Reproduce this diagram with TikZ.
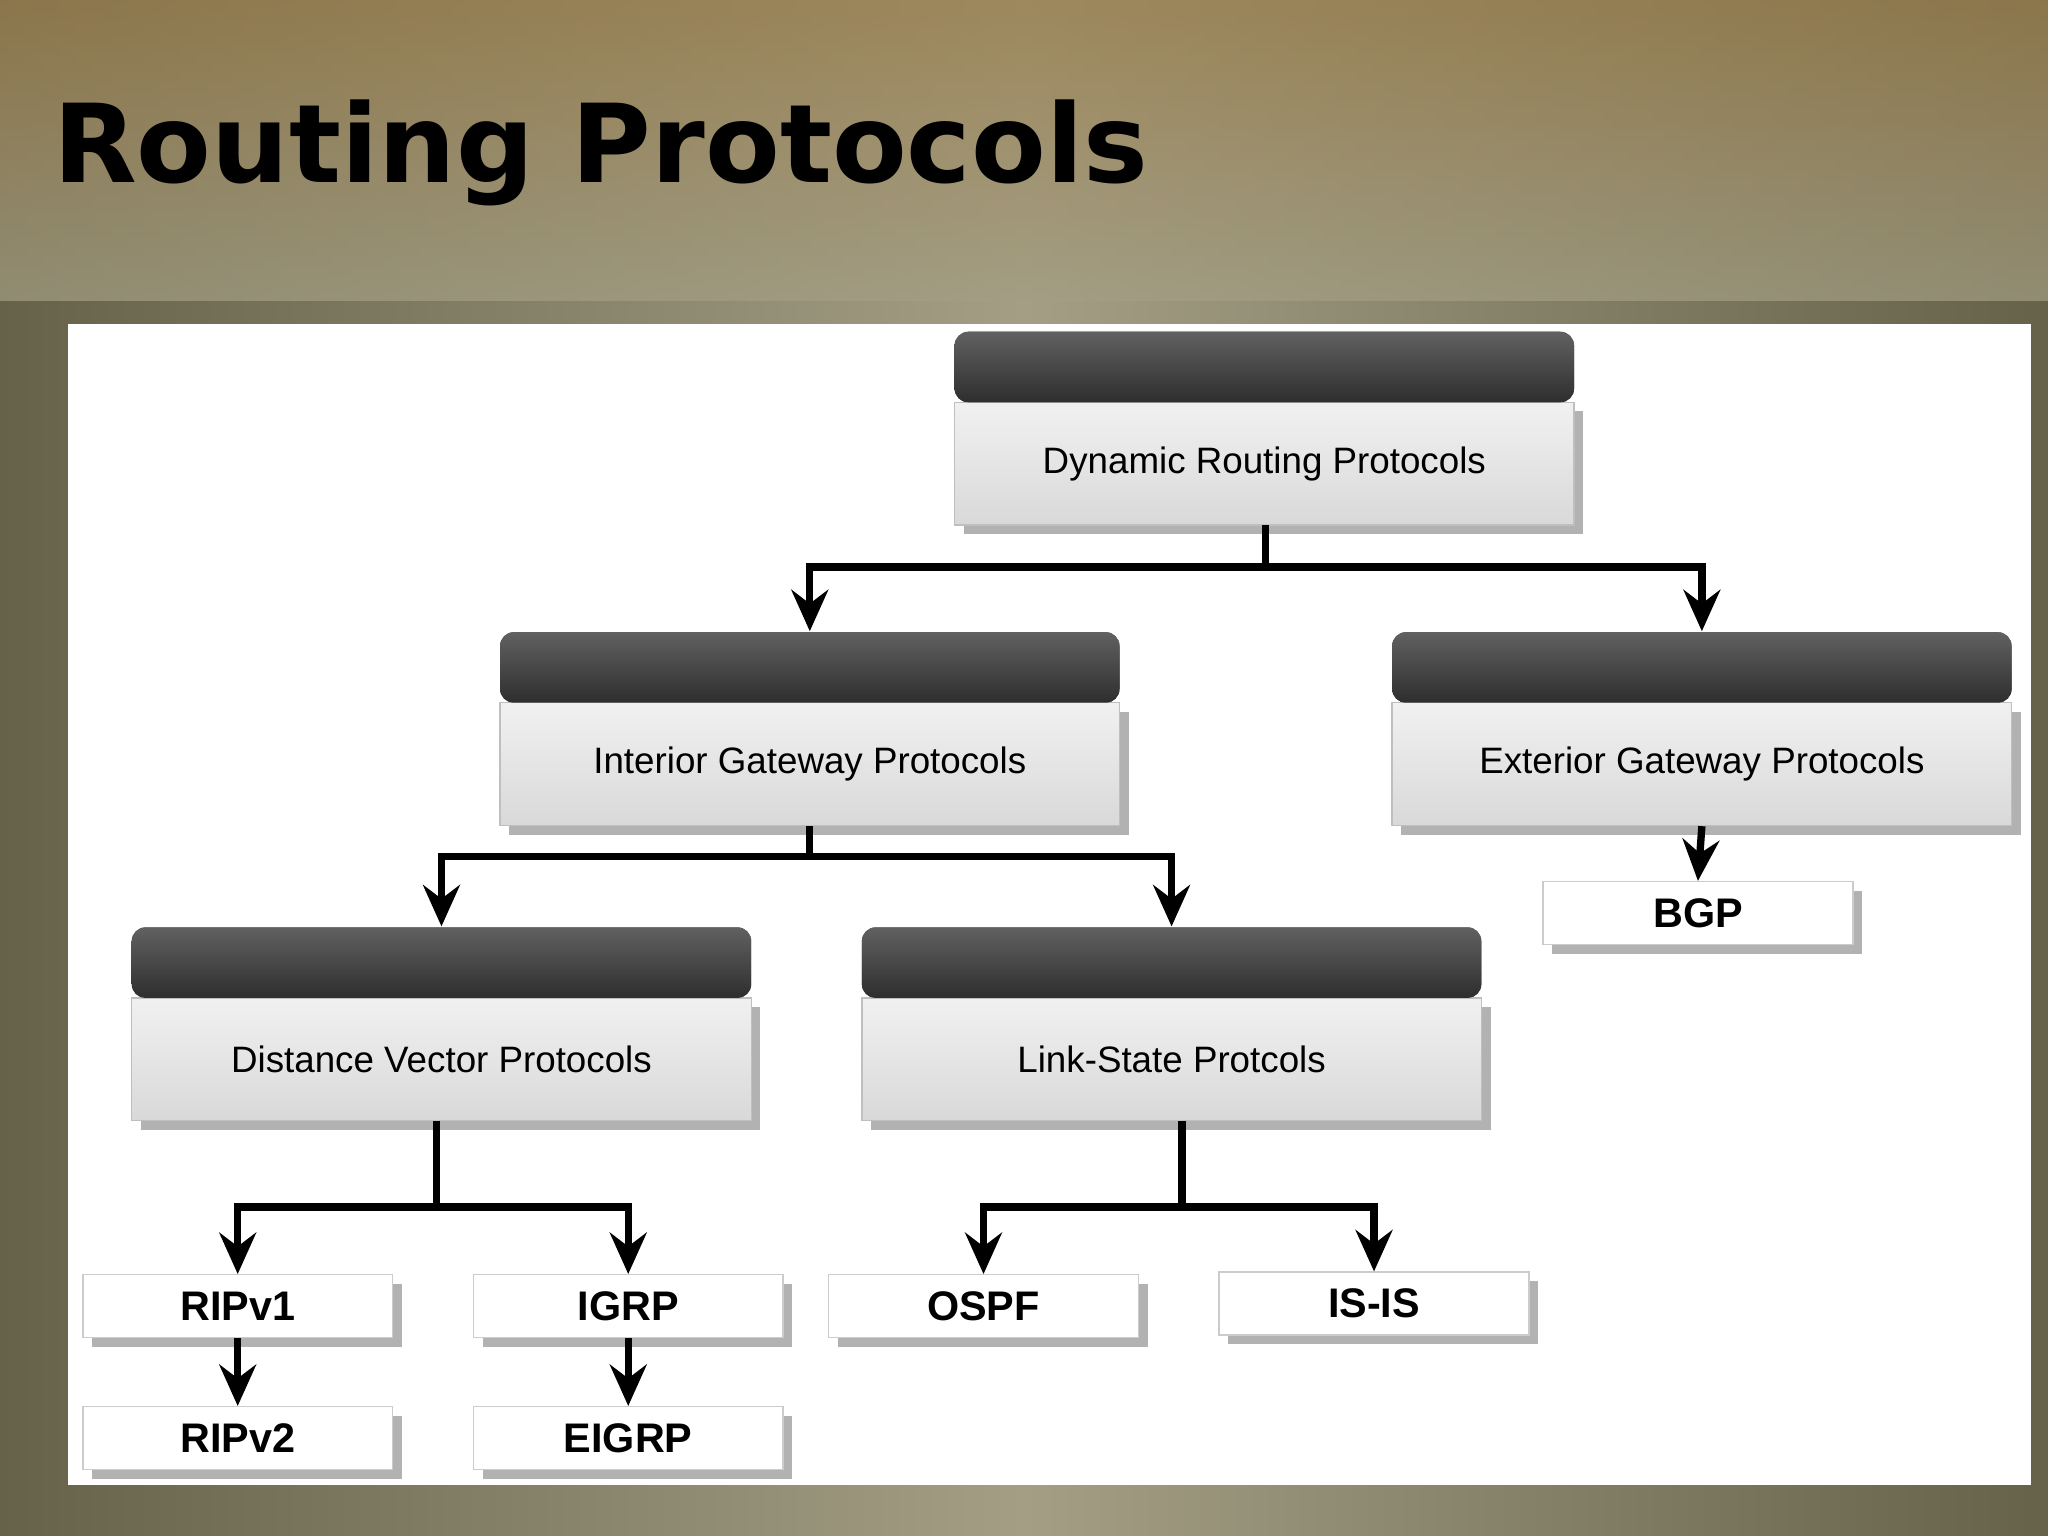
\documentclass[tikz,border=0pt]{standalone}
\usepackage{fontspec}
\setmainfont{Liberation Sans}
\newfontfamily\titlefont{DejaVu Sans}
\usetikzlibrary{arrows.meta,shadows,fadings}
\definecolor{bgmid}{HTML}{A39E84}
\definecolor{bgedge}{HTML}{66624A}
\definecolor{gold}{HTML}{9C7F4C}
\tikzset{
  bigbox/.style={minimum width=4.74cm,minimum height=0.94cm,inner sep=0pt,
    top color=white!92!blue!30!gray!15,bottom color=gray!30,draw=gray!50,line width=0.3pt,
    drop shadow={shadow xshift=2pt,shadow yshift=-2pt,opacity=0.6},font=\fontsize{8}{9}\selectfont},
  hdr/.style={minimum width=4.74cm,minimum height=0.54cm,inner sep=0pt,
    rounded corners=3pt,top color=black!62,bottom color=black!82,draw=none},
  smallbox/.style={minimum width=2.37cm,minimum height=0.48cm,inner sep=0pt,fill=white,
    draw=gray!40,line width=0.3pt,drop shadow={shadow xshift=2pt,shadow yshift=-2pt,opacity=0.6},
    font=\bfseries\fontsize{9}{10}\selectfont},
  conn/.style={line width=1.6pt,-{Stealth[length=9pt,width=8pt,inset=3pt]}},
  line/.style={line width=1.6pt}
}
\begin{document}
\begin{tikzpicture}[x={(0.01cm,0)},y={(0,-0.01cm)}]
\useasboundingbox (0,0) rectangle (1568,1176);
\shade[left color=bgedge,right color=bgedge,middle color=bgmid] (0,0) rectangle (1568,1176);
\shade[top color=gold,bottom color=bgmid,opacity=0.7] (0,0) rectangle (1568,230);
\node[anchor=base west,inner sep=0pt] (title) at (40,140)
  {\resizebox{8.38cm}{!}{\titlefont\bfseries Routing Protocols}};
\fill[white] (52,248) rectangle (1555,1137);
% big boxes
\foreach \n/\x/\y/\t in {dyn/968/328/Dynamic Routing Protocols,
  igp/620/558/Interior Gateway Protocols,
  egp/1303/558/Exterior Gateway Protocols,
  dv/338/784/Distance Vector Protocols,
  ls/897/784/Link-State Protcols}{
  \node[hdr] (\n h) at (\x,\y-47) {};
  \node[bigbox] (\n) at (\x,\y+27) {\t};
  \node[hdr] at (\x,\y-47) {};
}
% small boxes
\node[smallbox] (rip1) at (182,1000) {RIPv1};
\node[smallbox] (rip2) at (182,1101) {RIPv2};
\node[smallbox] (igrp) at (481,1000) {IGRP};
\node[smallbox] (eigrp) at (481,1101) {EIGRP};
\node[smallbox] (ospf) at (753,1000) {OSPF};
\node[smallbox] (isis) at (1052,998) {IS-IS};
\node[smallbox] (bgp) at (1300,699) {BGP};
% connectors
\draw[line] (969,402) -- (969,434) coordinate (j1);
\draw[conn] (j1) -| (igph.north);
\draw[conn] (j1) -| (egph.north);
\draw[line] (igp.south) -- (620,656) coordinate (j2);
\draw[conn] (j2) -| (dvh.north);
\draw[conn] (j2) -| (lsh.north);
\draw[conn] (egp.south) -- (bgp.north);
\draw[line] (334,858) -- (334,924) coordinate (j3);
\draw[conn] (j3) -| (rip1.north);
\draw[conn] (j3) -| (igrp.north);
\draw[line] (905,858) -- (905,924) coordinate (j4);
\draw[conn] (j4) -| (ospf.north);
\draw[conn] (j4) -| (isis.north);
\draw[conn] (rip1) -- (rip2);
\draw[conn] (igrp) -- (eigrp);
\end{tikzpicture}
\end{document}
